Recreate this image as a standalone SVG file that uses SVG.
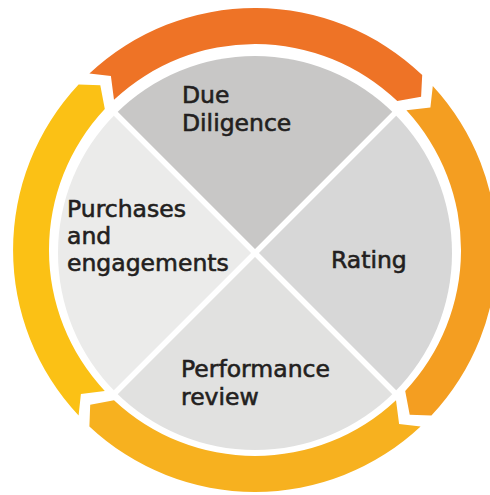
<svg xmlns="http://www.w3.org/2000/svg" width="490" height="495" viewBox="0 0 490 495">
<style>
.lbl{font-family:"DejaVu Sans","Liberation Sans",sans-serif;font-size:23.5px;fill:#231f20;stroke:#231f20;stroke-width:0.6}
.sep{stroke:#ffffff;stroke-width:5.5;fill:none}
</style>
<rect x="0" y="0" width="490" height="495" fill="#ffffff"/>
<g id="connectors">
<path d="M 89.4,73.6 A 242 242 0 0 1 422.2,75.0 L 421.1,96.7 L 397.3,101.1 A 206 206 0 0 0 114.0,99.8 L 110.9,75.9 Z" fill="#ee7326"/>
<path d="M 432.8,85.9 A 242 242 0 0 1 431.4,415.6 L 409.7,414.8 L 405.2,391.0 A 206 206 0 0 0 406.4,110.3 L 430.4,107.5 Z" fill="#f49e21"/>
<path d="M 420.6,426.4 A 242 242 0 0 1 89.4,426.4 L 90.2,404.7 L 114.0,400.2 A 206 206 0 0 0 396.0,400.2 L 399.1,424.1 Z" fill="#f7b11f"/>
<path d="M 78.6,415.6 A 242 242 0 0 1 78.6,84.4 L 100.3,85.2 L 104.8,109.0 A 206 206 0 0 0 104.8,391.0 L 80.9,394.1 Z" fill="#fbc115"/>
</g>
<g id="due-diligence">
<path d="M 255,253 L 115.7,113.7 A 197 197 0 0 1 394.3,113.7 Z" fill="#c8c7c6"/>
<text class="lbl" x="182" y="103">Due</text>
<text class="lbl" x="182" y="131">Diligence</text>
</g>
<g id="rating">
<path d="M 255,253 L 394.3,113.7 A 197 197 0 0 1 394.3,392.3 Z" fill="#d7d7d7"/>
<text class="lbl" x="331" y="268">Rating</text>
</g>
<g id="performance-review">
<path d="M 255,253 L 394.3,392.3 A 197 197 0 0 1 115.7,392.3 Z" fill="#e1e1e0"/>
<text class="lbl" x="181" y="377">Performance</text>
<text class="lbl" x="181" y="405">review</text>
</g>
<g id="purchases">
<path d="M 255,253 L 115.7,392.3 A 197 197 0 0 1 115.7,113.7 Z" fill="#ebebea"/>
<text class="lbl" x="67" y="217">Purchases</text>
<text class="lbl" x="67" y="244">and</text>
<text class="lbl" x="67" y="271">engagements</text>
</g>
<g id="separators">
<line class="sep" x1="112" y1="110" x2="398" y2="396"/>
<line class="sep" x1="398" y1="110" x2="112" y2="396"/>
</g>
</svg>
